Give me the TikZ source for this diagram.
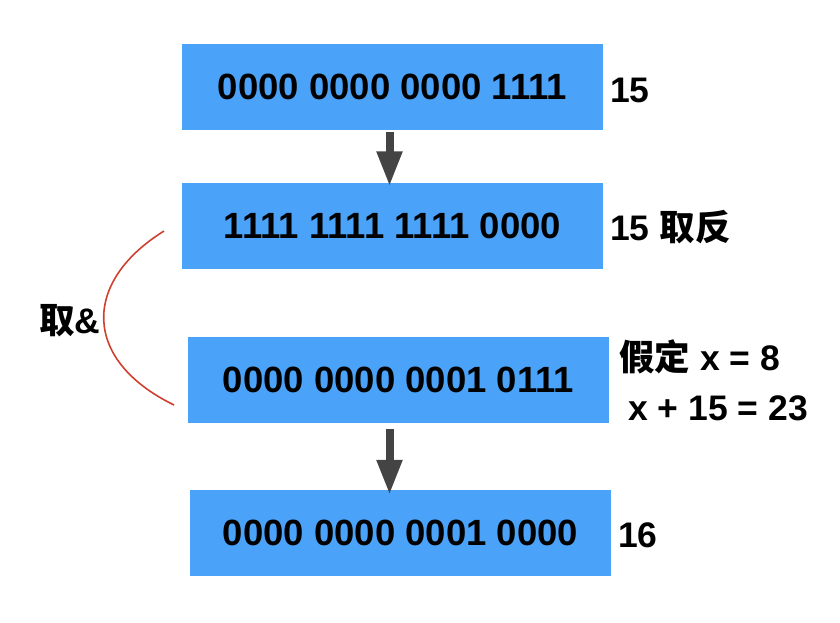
\documentclass[tikz,border=0pt]{standalone}
\usepackage{fontspec}
\setmainfont{Liberation Sans}
\newfontfamily\cjk{Noto Sans CJK SC}
\usetikzlibrary{arrows.meta}
\definecolor{boxblue}{RGB}{74,163,248}
\definecolor{arrowgray}{RGB}{68,68,68}
\definecolor{curvered}{RGB}{208,64,47}
\tikzset{
  binbox/.style={fill=boxblue, draw=none, minimum width=421pt, minimum height=86pt, inner sep=0pt,
    font=\fontsize{36.5}{40}\selectfont\bfseries},
  sidelabel/.style={anchor=west, inner sep=0pt, font=\fontsize{35.5}{40}\selectfont\bfseries},
  flowarrow/.style={draw=arrowgray, line width=8pt, -{Triangle[width=24pt,length=35pt]}, arrowgray},
  bracecurve/.style={draw=curvered, line width=1.6pt}
}
\begin{document}
\begin{tikzpicture}[x=1pt,y=-1pt]
\useasboundingbox (0,0) rectangle (840,622);
\node[binbox] (b1) at (392.5,87) {0000 0000 0000 1111};
\node[binbox] (b2) at (392.5,225.5) {1111 1111 1111 0000};
\node[binbox] (b3) at (398.5,380) {0000 0000 0001 0111};
\node[binbox] (b4) at (400.5,533) {0000 0000 0001 0000};

\node[sidelabel] (l1) at (610,90) {15};
\node[sidelabel] (l2) at (610,227) {15 {\cjk\bfseries 取反}};
\node[sidelabel] (l3) at (619,357) {{\cjk\bfseries 假定} x = 8};
\node[sidelabel] (l4) at (628,408) {x + 15 = 23};
\node[sidelabel] (l5) at (618,535) {16};
\node[sidelabel] (l6) at (39,321) {{\cjk\bfseries 取}\&};

\coordinate (c1) at (164,231);
\coordinate (c2) at (174,405);
\draw[bracecurve] (c1) .. controls (82,282) and (82,360) .. (c2);

\draw[flowarrow] ([xshift=-3pt,yshift=-2pt]b1.south) -- ([xshift=-3pt,yshift=-4pt]b2.north);
\draw[flowarrow] ([xshift=-9pt,yshift=-6pt]b3.south) -- ([xshift=-11pt,yshift=-5pt]b4.north);
\end{tikzpicture}
\end{document}
